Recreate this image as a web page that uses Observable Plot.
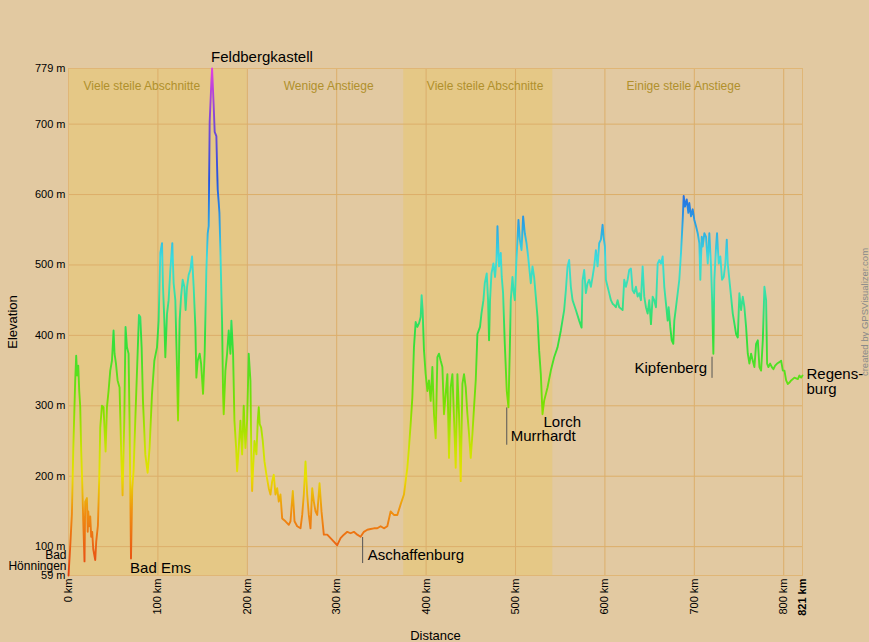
<!DOCTYPE html>
<html><head><meta charset="utf-8">
<script src="https://cdn.jsdelivr.net/npm/d3@7"></script>
<script src="https://cdn.jsdelivr.net/npm/@observablehq/plot@0.6"></script>
<style>
html,body{margin:0;padding:0;background:#e2c9a1;}
</style></head><body><div id="chart"></div><script>
// ---- data ----
const distanceKm = [0,1.9,3.8,5.3,7.5,8.6,9.7,10.9,12,13.1,14.2,15.3,16.5,17.9,18.7,20.6,21.5,22.1,23.2,24.3,25.4,26.5,27.7,29.9,31,32.9,34.4,35.5,37.4,39.2,41.5,43,44.8,46.7,48.6,50.4,51.5,53.1,54.9,57.1,59,60.5,62.4,63.8,65.4,67.2,68.3,69.9,71.3,72.8,74.7,77.3,78.8,80.3,81.8,83.3,85.9,88.5,90.7,93.4,96,99,100.8,102.7,104.6,105.7,107.2,108.3,110.2,112,113.9,116.1,117.6,119.5,121.4,122.5,124.3,125.9,127.7,129.6,131,132.6,134.4,136.3,138.2,140,141.9,143,144.5,146.7,148.3,150.5,152.3,154.2,155.7,156.8,157.9,159.8,160.6,162.4,163.5,165.4,166.2,166.9,168,168.8,169.9,171.8,172.9,173.6,175.5,177.4,179.2,181.1,182.2,184.1,185.6,187.5,188.6,190.4,192.3,194.2,196,197.9,199.8,201.6,203.5,204.6,205.4,206.5,208,210.2,211.7,212.8,213.9,215.5,217.3,219.2,221.4,224,225.9,227.8,229.6,231.5,233.4,235.2,237.1,239,242.7,246.4,248.3,250.9,252.8,255.8,259.5,261.4,263.2,265.1,267,268.8,270.7,272.6,274.4,276.3,278.2,280.8,283,285.6,289.4,293.1,296.8,300.6,304.3,308,311.8,315.5,319.2,323,326.7,330.4,334.2,337.9,341.6,345.4,349.1,352.8,356.6,360.3,364,367.8,371.5,375.2,377.1,379,380.8,382.7,384.6,386.4,388.3,390.2,392,393.9,395,396.1,397.6,399.5,401.4,403.2,405.1,407,408.8,410.7,412.6,414.4,416.3,418.2,420,421.9,423.8,425.6,427.5,429.4,431.2,433.1,435,436.8,438.7,440.6,442.4,444.3,446.2,448,449.9,451.8,453.6,455.5,457.4,460.3,461.9,464.1,465.6,467.8,469.3,470.4,471.5,473.1,475.3,477.1,478.7,479.8,481.6,483.5,484.6,486.1,488,490.2,492.1,493.6,494.7,496.6,497.7,499.2,500.7,502.2,503.3,504.8,506.7,508.5,510.4,512.3,514.1,515.2,517.1,519,520.8,522.7,524.6,526.4,528.3,530.2,532,535.8,539.5,543.2,547,550.7,554.4,556.3,558.2,560,561.9,563.8,567.5,571.2,573.9,575,576.8,578.7,580.6,582.4,584.3,586.2,588,589.9,591.8,593.6,595.5,597.4,598.5,600,601.1,603,604.8,606.7,608.6,610.4,612.3,614.2,616,617.9,619.8,621.6,623.5,625.4,627.2,629.1,631,632.8,634.7,636.6,638.4,640.3,642.2,644,645.9,647.8,649.6,651.5,653.4,655.2,657.1,659,660.8,662.7,664.6,666.4,668.3,670.2,671.3,673.1,674.7,676.5,677.6,679.5,681.4,683.2,685.1,687,688.1,689.6,691.5,693.3,694.4,696.3,698.2,700,701.9,703.8,705.6,706.7,708.3,709.4,711.2,713.1,715,716.8,718.7,719.8,721.3,722.4,724.3,725.4,727.3,729.1,731,732.9,734.7,736.3,737.4,739.2,741.1,743,744.8,746.7,748.6,750.4,752.3,754.2,756,757.9,759.8,761.6,763.5,765.4,767.2,769.1,771,772.8,774.7,776.6,778.4,780.3,781.4,782.9,784.8,786.7,788.5,790.4,792.6,795.2,797.1,799,800.8,802.7,804.6,806.4,808.3,812,815.8,817.6,819.5,821];
const elevationM = [59,100,146,236,336,371,343,357,321,299,236,193,136,79,164,169,121,150,129,143,114,121,96,81,107,130,198,269,300,298,235,298,321,350,364,407,374,360,336,326,231,173,279,412,383,374,279,83,183,207,279,374,429,426,383,307,231,205,240,317,364,383,421,517,531,469,421,369,431,450,493,531,474,450,350,279,421,455,479,469,436,469,486,493,512,469,412,340,364,374,360,317,374,493,545,555,703,760,779,726,689,683,640,607,589,574,521,417,317,288,350,374,407,374,421,374,279,240,207,240,279,231,300,240,279,374,336,217,179,212,250,231,279,298,274,269,250,221,202,183,174,193,202,174,183,164,174,140,136,131,136,179,136,129,126,145,174,221,174,145,126,183,164,150,145,190,150,117,117,112,107,102,112,117,121,119,121,117,114,121,124,125,126,126,129,126,129,150,145,145,160,174,193,212,240,274,312,383,419,412,417,426,457,436,379,345,321,336,307,355,288,254,369,374,364,355,288,317,345,226,326,345,283,212,345,288,193,331,345,326,288,260,226,260,298,336,402,412,431,450,474,488,450,393,450,488,502,483,507,555,498,517,483,460,388,321,298,379,450,483,464,450,498,536,564,536,521,569,545,531,512,498,474,498,483,455,426,379,345,288,307,326,350,369,383,407,436,464,498,507,469,450,436,421,411,478,493,460,474,479,469,483,498,521,498,531,536,557,540,526,479,469,460,450,445,443,440,450,440,438,436,479,469,479,493,495,464,460,469,455,460,450,498,455,440,431,450,416,455,450,440,502,507,502,512,469,445,421,440,412,393,388,421,440,460,479,517,564,598,583,593,574,588,569,579,564,555,545,531,479,540,526,545,540,502,545,498,455,374,479,526,545,502,512,479,483,502,536,502,479,455,431,417,402,397,460,436,455,440,412,374,360,374,364,355,388,393,355,350,393,469,450,360,355,360,355,352,357,360,362,364,350,350,336,331,333,336,340,338,343,340,343];

const bandStart = [0, 200, 375, 542];
const bandEnd = [200, 375, 542, 821];
const bandLabel = ["Viele steile Abschnitte", "Wenige Anstiege", "Viele steile Abschnitte", "Einige steile Anstiege"];
const bandLabelKm = [82, 291, 466, 688];
const bandSteep = [true, false, true, false];

const placeNames = ["Feldbergkastell", "Bad\nHönningen", "Bad Ems", "Aschaffenburg", "Murrhardt", "Lorch", "Kipfenberg", "Regens-\nburg"];
const placeKm = [160.6, 0, 70, 329, 490.2, 530.2, 719.8, 821];
const placeEle = [779, 59, 83, 76, 244, 288, 339, 343];

const markerKm = [329, 490.2, 719.8];
const markerTop = [113, 297, 369];
const markerBottom = [76, 244, 339];

const yTicks = [59, 100, 200, 300, 400, 500, 600, 700, 779];
const yGridTicks = [100, 200, 300, 400, 500, 600, 700];
const xTicks = [0, 100, 200, 300, 400, 500, 600, 700, 800];
const xEndTick = [821];
const xGridTicks = [100, 200, 300, 400, 500, 600, 700, 800];

const stopEle = [59, 90, 150, 200, 240, 300, 400, 460, 510, 560, 620, 700, 779];
const stopColor = ["#e6400c", "#ea5a14", "#f09010", "#e8e000", "#c8e400", "#7ce000", "#2ee040", "#38e0a8", "#3cdcdc", "#2aa0e4", "#2454e0", "#7a48d4", "#e040e0"];

// ---- build tables ----
const profile = distanceKm.map((km, i) => ({km, ele: elevationM[i]}));
const bands = bandStart.map((s, i) => ({start: s, end: bandEnd[i], label: bandLabel[i], labelKm: bandLabelKm[i], steep: bandSteep[i]}));
const places = placeNames.map((name, i) => ({name, km: placeKm[i], ele: placeEle[i]}));
const markers = markerKm.map((km, i) => ({km, top: markerTop[i], bottom: markerBottom[i]}));

const BG = "#e2c9a1", STEEP = "#e5c886", GRID = "#dcae6a";
const font = "'Liberation Sans', Arial, Helvetica, sans-serif";
const place = (name, opts) => Plot.text(places.filter(d => d.name === name), {x: "km", y: "ele", text: "name", fontSize: 15, fill: "#000", ...opts});

const gradientMark = (index, scales) => {
  const y = scales.y;
  const g = d3.create("svg:g");
  const lg = g.append("defs").append("linearGradient")
    .attr("id", "elevGrad").attr("gradientUnits", "userSpaceOnUse")
    .attr("x1", 0).attr("x2", 0)
    .attr("y1", y(stopEle[0])).attr("y2", y(stopEle[stopEle.length - 1]));
  const lo = stopEle[0], hi = stopEle[stopEle.length - 1];
  stopEle.forEach((e, i) => lg.append("stop").attr("offset", (e - lo) / (hi - lo)).attr("stop-color", stopColor[i]));
  return g.node();
};

const chart = Plot.plot({
  width: 869, height: 642,
  marginLeft: 68, marginRight: 67, marginTop: 68, marginBottom: 67,
  style: {background: BG, fontFamily: font, fontSize: "11px", color: "#000", overflow: "visible"},
  x: {domain: [0, 821]},
  y: {domain: [59, 779]},
  marks: [
    Plot.rect(bands, {x1: "start", x2: "end", y1: 59, y2: 779, fill: d => d.steep ? STEEP : BG}),
    Plot.gridX(xGridTicks, {stroke: GRID, strokeOpacity: 1}),
    Plot.gridY(yGridTicks, {stroke: GRID, strokeOpacity: 1}),
    Plot.frame({stroke: "#e0b676"}),
    Plot.text(bands, {x: "labelKm", frameAnchor: "top", lineAnchor: "middle", dy: 18, text: "label", fill: "#b0902c", fontSize: 12}),
    gradientMark,
    Plot.line(profile, {x: "km", y: "ele", stroke: "url(#elevGrad)", strokeWidth: 1.9}),
    Plot.ruleX(markers, {x: "km", y1: "top", y2: "bottom", stroke: "#555", strokeWidth: 1}),
    Plot.text(places.filter(d => d.name === "Feldbergkastell"), {x: "km", frameAnchor: "top", lineAnchor: "middle", text: "name", fontSize: 15, fill: "#000", textAnchor: "start", dx: -1, dy: -11}),
    place("Bad\nHönningen", {fontSize: 12, textAnchor: "end", lineAnchor: "middle", lineHeight: 0.92, dx: -2, dy: -15}),
    place("Bad Ems", {textAnchor: "start", dx: -1, dy: 10}),
    place("Aschaffenburg", {textAnchor: "start", dx: 5, dy: -8}),
    place("Murrhardt", {textAnchor: "start", dx: 4, dy: -9}),
    place("Lorch", {textAnchor: "start", dx: 1, dy: 8}),
    place("Kipfenberg", {textAnchor: "end", dx: -5, dy: -10}),
    place("Regens-\nburg", {textAnchor: "start", lineAnchor: "middle", lineHeight: 1, dx: 4, dy: 6}),
    Plot.axisY(yTicks, {tickSize: 0, tickPadding: 3, tickFormat: d => d + " m", label: null, fontSize: 11}),
    Plot.axisX(xTicks, {tickSize: 0, tickPadding: 3, tickRotate: -90, tickFormat: d => d + " km", label: null, fontSize: 11}),
    Plot.axisX(xEndTick, {tickSize: 0, tickPadding: 3, tickRotate: -90, tickFormat: d => d + " km", label: null, fontSize: 11, fontWeight: "bold"}),
    Plot.text(["Elevation"], {frameAnchor: "left", text: d => d, rotate: -90, textAnchor: "middle", lineAnchor: "middle", dx: -56, fontSize: 13, fill: "#000"}),
    Plot.text(["Distance"], {frameAnchor: "bottom", text: d => d, textAnchor: "middle", lineAnchor: "middle", dy: 60, fontSize: 13, fill: "#000"}),
    Plot.text(["created by GPSVisualizer.com"], {frameAnchor: "right", text: d => d, rotate: -90, textAnchor: "middle", lineAnchor: "middle", dx: 62, dy: -10, fontSize: 9.5, fill: "#8a8a8a"})
  ]
});
document.getElementById("chart").appendChild(chart);
</script></body></html>
